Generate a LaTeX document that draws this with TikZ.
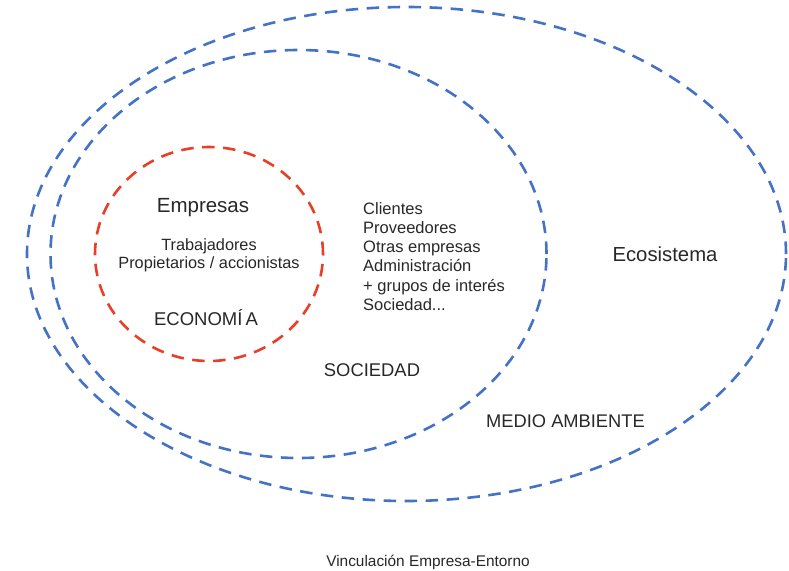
\documentclass[tikz,border=0pt]{standalone}
\usepackage{fontspec}
\setmainfont{Liberation Sans}
\usetikzlibrary{shapes.geometric}
\definecolor{blueline}{RGB}{68,114,196}
\definecolor{redline}{RGB}{232,64,40}
\definecolor{txt}{RGB}{40,40,40}
\begin{document}
\begin{tikzpicture}[x=1pt,y=-1pt,
  ring/.style={draw, ellipse, line width=2.6pt, dash pattern=on 12.5pt off 8.5pt, inner sep=0pt, outer sep=0pt},
  lbl/.style={text=txt, inner sep=0pt, anchor=base},
  lbll/.style={text=txt, inner sep=0pt, anchor=base west, font=\fontsize{16.5}{19}\selectfont}]
\useasboundingbox[fill=white] (0,0) rectangle (789,570);
% rings
\node[ring, blueline, minimum width=759pt, minimum height=494pt] (eco) at (406.5,254) {};
\node[ring, blueline, minimum width=496pt, minimum height=408pt] (soc) at (298.5,254) {};
\node[ring, redline, minimum width=228pt, minimum height=214pt] (econ) at (209,254) {};
% inner texts
\node[lbl, font=\fontsize{20.5}{24}\selectfont] (empresas) at (203,212.7) {Empresas};
\node[lbl, font=\fontsize{16.3}{19}\selectfont] (trab) at (209,250.7) {Trabajadores};
\node[lbl, font=\fontsize{16.3}{19}\selectfont] (prop) at (209,268.5) {Propietarios / accionistas};
\node[lbl, font=\fontsize{18.5}{22}\selectfont] (economia) at (206,325) {ECONOM\'I\hspace{3pt}A};
% society list
\node[lbll] (l1) at (363,214) {Clientes};
\node[lbll] (l2) at (363,233.3) {Proveedores};
\node[lbll] (l3) at (363,252.6) {Otras empresas};
\node[lbll] (l4) at (363,271.9) {Administración};
\node[lbll] (l5) at (363,291.2) {+ grupos de interés};
\node[lbll] (l6) at (363,310.5) {Sociedad...};
% ring labels
\node[lbl, font=\fontsize{18.4}{22}\selectfont] (sociedad) at (372,376) {SOCIEDAD};
\node[lbl, font=\fontsize{18.3}{22}\selectfont] (medio) at (565.5,427) {MEDIO AMBIENTE};
\node[lbl, font=\fontsize{20.3}{24}\selectfont] (ecosis) at (665,261.7) {Ecosistema};
% caption
\node[lbl, font=\fontsize{15.4}{18}\selectfont] (caption) at (428,566.5) {Vinculación Empresa-Entorno};
\end{tikzpicture}
\end{document}
